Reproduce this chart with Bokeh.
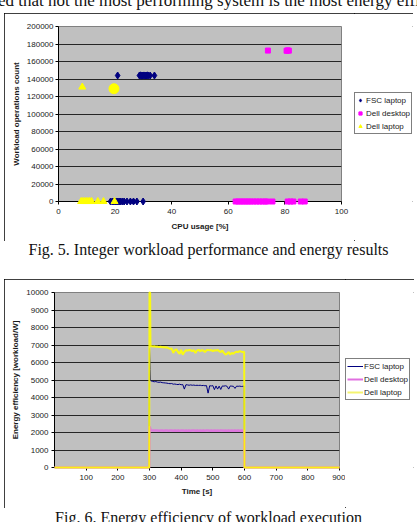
from bokeh.plotting import figure
from bokeh.layouts import column, row
from bokeh.models import (Div, FixedTicker, BasicTickFormatter, Range1d,
                          Legend, LegendItem)
from bokeh.embed import file_html
from bokeh.resources import INLINE

# ---------------- Fig. 5 data (CPU usage [%] vs workload operations) -------------
fsc_cpu = [20.9, 28.6, 29.0, 29.4, 29.8, 30.2, 30.6, 31.0, 31.4, 31.8, 32.4, 33.9,
           18.4, 19.0, 19.5, 20.0, 20.5, 21.0, 21.5, 22.0, 22.6, 23.2, 24.2, 25.4,
           26.5, 27.7, 29.9]
fsc_ops = [144000, 144000, 144200, 143800, 144000, 144100, 143900, 144000, 144200,
           143900, 144000, 144000,
           0, 0, 0, 0, 0, 0, 0, 0, 0, 0, 0, 0, 0, 0, 0]

desk_cpu = [74.0, 80.6, 81.0, 81.4,
            62.6, 63.5, 64.4, 65.3, 66.2, 67.1, 68.0, 69.0, 70.0, 71.0, 72.0, 73.0,
            73.8, 75.6, 81.0, 82.0, 83.0, 85.6, 87.0]
desk_ops = [172500, 172300, 172700, 172400,
            0, 0, 0, 0, 0, 0, 0, 0, 0, 0, 0, 0, 0, 0, 0, 0, 0, 0, 0]

lap_cpu = [8.4, 8.0, 8.6, 9.2, 9.8, 10.4, 11.0, 11.7, 13.9, 15.9, 19.8]
lap_ops = [130800, 0, 0, 0, 0, 0, 0, 0, 0, 0, 0]
lap_cluster_cpu = [19.6]
lap_cluster_ops = [128900]

fig5_x_ticks = [0, 20, 40, 60, 80, 100]
fig5_y_ticks = [0, 20000, 40000, 60000, 80000, 100000, 120000, 140000, 160000,
                180000, 200000]

# ---------------- Fig. 6 data (energy efficiency over time) ----------------------
time_s = [0, 299, 300, 302, 303,
          305, 310, 315, 320, 325, 330, 335, 340, 345, 350,
          355, 360, 365, 370, 375, 380, 385, 390, 395, 400,
          405, 410, 415, 420, 425, 430, 435, 440, 445, 450,
          455, 460, 465, 470, 475, 480, 485, 490, 495, 500,
          505, 510, 515, 520, 525, 530, 535, 540, 545, 550,
          555, 560, 565, 570, 575, 580, 585, 590, 595,
          599, 600, 900]
eff_fsc = [0, 0, 6800, 5600, 4960,
           4950, 4920, 4900, 4910, 4880, 4870, 4880, 4850, 4840, 4830,
           4820, 4800, 4790, 4800, 4760, 4770, 4750, 4740, 4760, 4730,
           4740, 4480, 4730, 4720, 4700, 4720, 4700, 4710, 4690, 4700,
           4690, 4700, 4680, 4690, 4670, 4680, 4250, 4670, 4660, 4680,
           4450, 4660, 4480, 4650, 4460, 4660, 4650, 4670, 4640, 4480,
           4660, 4650, 4640, 4520, 4650, 4640, 4650, 4630, 4640,
           4650, 0, 0]
eff_desk = [0, 0, 2350, 2250, 2150,
            2130, 2120, 2110, 2115, 2110, 2105, 2110, 2110, 2105, 2110,
            2110, 2105, 2110, 2110, 2105, 2110, 2100, 2110, 2105, 2110,
            2110, 2105, 2110, 2100, 2110, 2105, 2110, 2110, 2100, 2110,
            2105, 2110, 2100, 2110, 2105, 2110, 2110, 2100, 2110, 2105,
            2110, 2100, 2110, 2105, 2110, 2110, 2100, 2110, 2105, 2110,
            2100, 2110, 2105, 2110, 2100, 2110, 2105, 2110, 2100,
            2105, 0, 0]
eff_lap = [0, 0, 10000, 10000, 6950,
           6940, 6920, 6930, 6900, 6910, 6880, 6900, 6870, 6890, 6860,
           6870, 6820, 6780, 6800, 6550, 6700, 6750, 6600, 6500, 6720,
           6450, 6600, 6700, 6680, 6720, 6700, 6650, 6700, 6550, 6690,
           6720, 6650, 6700, 6680, 6600, 6700, 6720, 6690, 6710, 6650,
           6700, 6680, 6720, 6650, 6600, 6680, 6550, 6450, 6500, 6600,
           6450, 6550, 6500, 6580, 6620, 6600, 6650, 6620, 6600,
           6610, 0, 0]

fig6_x_ticks = [100, 200, 300, 400, 500, 600, 700, 800, 900]
fig6_y_ticks = [0, 1000, 2000, 3000, 4000, 5000, 6000, 7000, 8000, 9000, 10000]

series_names = ["FSC laptop", "Dell desktop", "Dell laptop"]

SANS = "Liberation Sans"
SERIF = "Liberation Serif"
BOX = {"outline": "1px solid #000000", "outline-offset": "-1px"}
C_FSC, C_DESK, C_LAP = "#000080", "#FF00FF", "#FFFF00"
C_DESK_LINE = "#E070E0"


def style_axes(p, xlab, ylab, xticks, yticks, ystand, xstand):
    p.background_fill_color = "#C0C0C0"
    p.border_fill_color = "white"
    p.outline_line_color = "#808080"
    p.xgrid.visible = False
    p.ygrid.ticker = FixedTicker(ticks=yticks)
    p.ygrid.grid_line_color = "#262626"
    p.ygrid.grid_line_width = 1.2
    p.xaxis.ticker = FixedTicker(ticks=xticks)
    p.yaxis.ticker = FixedTicker(ticks=yticks)
    p.yaxis.formatter = BasicTickFormatter(use_scientific=False)
    for ax in (p.xaxis[0], p.yaxis[0]):
        ax.axis_line_color = "black"
        ax.major_tick_line_color = "black"
        ax.major_tick_out = 3
        ax.major_tick_in = 0
        ax.minor_tick_line_color = None
        ax.major_label_text_font = SANS
        ax.major_label_text_font_size = "8px"
        ax.major_label_text_color = "#1a1a1a"
        ax.axis_label_text_font = SANS
        ax.axis_label_text_font_size = "8px"
        ax.axis_label_text_font_style = "bold"
        ax.axis_label_text_color = "#1a1a1a"
    p.xaxis.axis_label = xlab
    p.yaxis.axis_label = ylab
    p.yaxis.major_label_standoff = ystand
    p.yaxis.axis_label_standoff = 3
    p.xaxis.major_label_standoff = xstand
    p.xaxis.axis_label_standoff = 5


def legend_figure(width, height, top, bottom):
    # side panel (frame aligned with the chart's frame) holding only the legend box
    f = figure(width=width, height=height, x_range=Range1d(-2, -1),
               y_range=Range1d(-2, -1), output_backend="svg", toolbar_location=None,
               min_border_left=0, min_border_right=0, min_border_top=top,
               min_border_bottom=bottom, x_axis_type=None, y_axis_type=None)
    f.grid.visible = False
    f.outline_line_color = None
    f.background_fill_color = "white"
    f.border_fill_color = "white"
    return f


def style_legend(lg, glyph_w, standoff):
    lg.border_line_color = "black"
    lg.border_line_width = 1
    lg.background_fill_color = "white"
    lg.background_fill_alpha = 1
    lg.label_text_font = SANS
    lg.label_text_font_size = "8px"
    lg.label_text_color = "#1a1a1a"
    lg.glyph_height = 12
    lg.label_height = 12
    lg.glyph_width = glyph_w
    lg.label_standoff = standoff
    lg.spacing = 1
    lg.padding = 1
    lg.margin = 0


# ---------------- Fig. 5 ----------------
p1 = figure(width=350, height=228, x_range=Range1d(0, 100), y_range=Range1d(0, 200000),
            output_backend="svg", toolbar_location=None,
            min_border_left=54, min_border_right=13, min_border_top=13,
            min_border_bottom=40)
style_axes(p1, "CPU usage [%]", "Workload operations count",
           fig5_x_ticks, fig5_y_ticks, 2, 4)

p1.scatter(fsc_cpu, fsc_ops, marker="diamond", size=7, color=C_FSC, level="overlay")
p1.scatter(desk_cpu, desk_ops, marker="square", size=5, color=C_DESK, level="overlay")
p1.scatter(lap_cpu, lap_ops, marker="triangle", size=7, color=C_LAP, level="overlay")
p1.scatter(lap_cluster_cpu, lap_cluster_ops, marker="circle", size=10, color=C_LAP,
           level="overlay")

lf1 = legend_figure(59, 228, 13, 40)
k1 = lf1.scatter(fsc_cpu, fsc_ops, marker="diamond", size=7, color=C_FSC)
k2 = lf1.scatter(desk_cpu, desk_ops, marker="square", size=5, color=C_DESK)
k3 = lf1.scatter(lap_cpu, lap_ops, marker="triangle", size=7, color=C_LAP)
lg1 = Legend(items=[LegendItem(label=series_names[0], renderers=[k1]),
                    LegendItem(label=series_names[1], renderers=[k2]),
                    LegendItem(label=series_names[2], renderers=[k3])],
             location=(0, 67))
style_legend(lg1, 8, 2)
lf1.add_layout(lg1)

chart1 = row(p1, lf1, spacing=0, margin=(0, 0, 0, 4), styles=BOX)

# ---------------- Fig. 6 ----------------
p2 = figure(width=341, height=229, x_range=Range1d(0, 900), y_range=Range1d(0, 10000),
            output_backend="svg", toolbar_location=None,
            min_border_left=50, min_border_right=6, min_border_top=13,
            min_border_bottom=41)
style_axes(p2, "Time [s]", "Energy efficiency [workload/W]",
           fig6_x_ticks, fig6_y_ticks, 3, 4)
p2.xaxis.axis_label_standoff = 4

p2.line(time_s, eff_fsc, line_color=C_FSC, line_width=1, level="overlay")
p2.line(time_s, eff_desk, line_color=C_DESK_LINE, line_width=2.5, line_alpha=0.9,
        level="overlay")
p2.line(time_s, eff_lap, line_color=C_LAP, line_width=2, line_alpha=0.9,
        level="overlay")

lf2 = legend_figure(69, 229, 13, 41)
m1 = lf2.line(time_s, eff_fsc, line_color=C_FSC, line_width=1)
m2 = lf2.line(time_s, eff_desk, line_color=C_DESK_LINE, line_width=2)
m3 = lf2.line(time_s, eff_lap, line_color="#F4F470", line_width=2)
lg2 = Legend(items=[LegendItem(label=series_names[0], renderers=[m1]),
                    LegendItem(label=series_names[1], renderers=[m2]),
                    LegendItem(label=series_names[2], renderers=[m3])],
             location=(0, 67))
style_legend(lg2, 16, 1)
lf2.add_layout(lg2)

chart2 = row(p2, lf2, spacing=0, margin=(0, 0, 0, 4), styles=BOX)

# ---------------- page text ----------------
top_text = Div(width=417, height=13, margin=0, styles={"overflow": "hidden"},
               text=('<div style="position:relative;top:-8px;left:-2px;'
                     f"font-family:'{SERIF}';font-size:17px;line-height:17px;"
                     'white-space:nowrap;color:#111;">'
                     'ed that not the most performing system is the most energy efficient</div>'))
cap1 = Div(width=417, height=38, margin=0, styles={"overflow": "hidden"},
           text=('<div style="position:relative;top:1px;width:417px;text-align:center;'
                 f"font-family:'{SERIF}';font-size:16px;line-height:16px;"
                 'white-space:nowrap;color:#111;">'
                 'Fig. 5. Integer workload performance and energy results</div>'))
cap2 = Div(width=417, height=14, margin=0, styles={"overflow": "hidden"},
           text=('<div style="position:relative;top:2px;width:417px;text-align:center;'
                 f"font-family:'{SERIF}';font-size:16px;line-height:16px;"
                 'white-space:nowrap;color:#111;">'
                 'Fig. 6. Energy efficiency of workload execution</div>'))

layout = column(top_text, chart1, cap1, chart2, cap2, spacing=0)

open("out.html", "w").write(file_html(layout, INLINE))
